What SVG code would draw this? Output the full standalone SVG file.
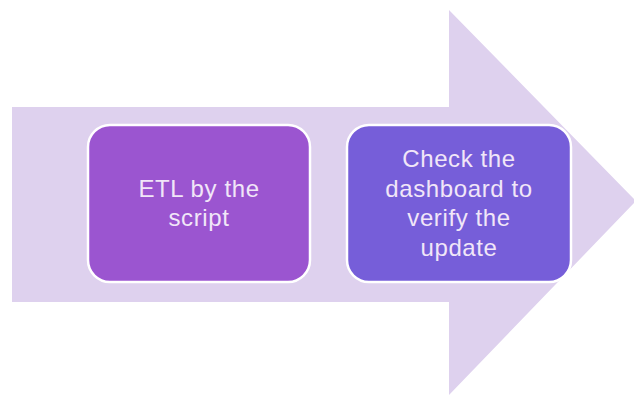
<svg xmlns="http://www.w3.org/2000/svg" width="634" height="397" viewBox="0 0 634 397">
<style>
.box{stroke:#ffffff;stroke-width:2.5}
.lbl{font-family:"Liberation Sans",Arial,sans-serif;font-size:24px;letter-spacing:0.6px;fill:#f1e6f8;text-anchor:middle}
</style>
<rect width="634" height="397" fill="#ffffff"/>
<g id="arrow">
<polygon points="12,107 449,107 449,10 636,201 449,395 449,302 12,302" fill="#ded1ee"/>
</g>
<g id="connectors"></g>
<g id="node1">
<rect class="box" x="88" y="125" width="222" height="157" rx="22" fill="#9b55d0"/>
<text class="lbl" x="199" y="197">ETL by the</text>
<text class="lbl" x="199" y="226">script</text>
</g>
<g id="node2">
<rect class="box" x="347" y="125" width="224" height="157" rx="22" fill="#765ed9"/>
<text class="lbl" x="459" y="167">Check the</text>
<text class="lbl" x="459" y="196.5">dashboard to</text>
<text class="lbl" x="459" y="226">verify the</text>
<text class="lbl" x="459" y="255.5">update</text>
</g>
</svg>
